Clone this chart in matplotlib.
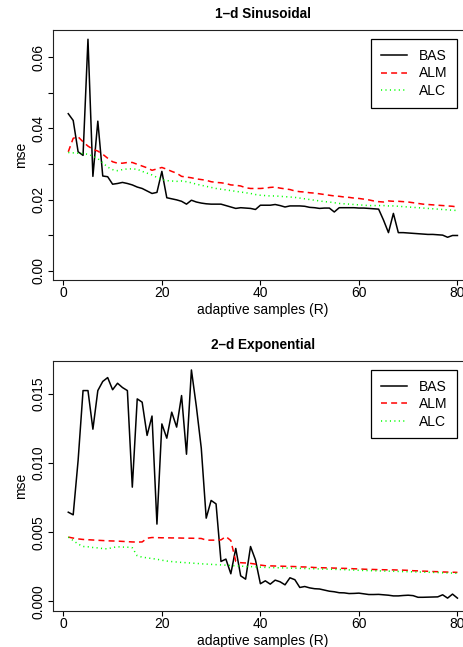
import numpy as np
import matplotlib
matplotlib.use("Agg")
import matplotlib.pyplot as plt

plt.rcParams['font.family'] = ['Liberation Sans', 'DejaVu Sans']
plt.rcParams['lines.scale_dashes'] = False

R = list(range(1, 81))

sin_bas = [0.0441,0.0422,0.0334,0.0324,0.0650,0.0265,0.0420,0.0266,0.0264,0.0243,
           0.0245,0.0248,0.0245,0.0241,0.0235,0.0231,0.0224,0.0217,0.0220,0.0279,
           0.0205,0.0202,0.0199,0.0195,0.0187,0.0198,0.0193,0.0190,0.0188,0.0187,
           0.0187,0.0187,0.0183,0.0179,0.0175,0.0177,0.0176,0.0175,0.0172,0.0184,
           0.0184,0.0184,0.0186,0.0183,0.0179,0.0182,0.0182,0.0182,0.0181,0.0178,
           0.0177,0.0175,0.0176,0.0176,0.0165,0.0177,0.0177,0.0177,0.0177,0.0176,
           0.0176,0.0175,0.0174,0.0173,0.0142,0.0107,0.0161,0.0107,0.0107,0.0106,
           0.0105,0.0104,0.0103,0.0102,0.0102,0.0101,0.0100,0.0094,0.0099,0.0099]
sin_alm = [0.0334,0.0372,0.0376,0.0362,0.0350,0.0341,0.0336,0.0327,0.0316,0.0306,
           0.0302,0.0302,0.0304,0.0304,0.0299,0.0294,0.0289,0.0282,0.0286,0.0290,
           0.0285,0.0279,0.0274,0.0265,0.0263,0.0261,0.0258,0.0256,0.0254,0.0250,
           0.0248,0.0247,0.0245,0.0241,0.0240,0.0238,0.0233,0.0231,0.0231,0.0231,
           0.0232,0.0234,0.0235,0.0232,0.0230,0.0228,0.0224,0.0222,0.0221,0.0219,
           0.0218,0.0216,0.0214,0.0212,0.0210,0.0209,0.0207,0.0206,0.0204,0.0203,
           0.0201,0.0199,0.0196,0.0194,0.0193,0.0196,0.0195,0.0195,0.0194,0.0193,
           0.0191,0.0189,0.0187,0.0186,0.0185,0.0184,0.0183,0.0182,0.0181,0.0179]
sin_alc = [0.0332,0.0331,0.0330,0.0329,0.0327,0.0322,0.0315,0.0303,0.0291,0.0284,
           0.0281,0.0284,0.0286,0.0286,0.0285,0.0279,0.0274,0.0269,0.0262,0.0256,
           0.0253,0.0252,0.0251,0.0252,0.0250,0.0247,0.0243,0.0240,0.0237,0.0234,
           0.0231,0.0229,0.0227,0.0225,0.0223,0.0221,0.0219,0.0217,0.0214,0.0212,
           0.0211,0.0210,0.0210,0.0209,0.0208,0.0207,0.0206,0.0204,0.0202,0.0200,
           0.0198,0.0196,0.0194,0.0193,0.0191,0.0189,0.0188,0.0187,0.0186,0.0185,
           0.0184,0.0183,0.0183,0.0183,0.0183,0.0182,0.0182,0.0181,0.0180,0.0179,
           0.0178,0.0177,0.0176,0.0175,0.0174,0.0173,0.0172,0.0171,0.0170,0.0169]

exp_bas = [0.00645,0.00626,0.0102,0.01524,0.01524,0.01245,0.01524,0.0159,0.01618,0.0153,
           0.01577,0.01546,0.01524,0.00826,0.01464,0.0144,0.0120,0.0134,0.00559,0.01283,
           0.0118,0.01368,0.0126,0.01488,0.01064,0.01673,0.01409,0.01108,0.00602,0.0073,
           0.00705,0.00289,0.00306,0.0020,0.00383,0.00185,0.00161,0.00397,0.0030,0.00128,
           0.00149,0.00125,0.00154,0.00142,0.0012,0.00171,0.00157,0.00101,0.00108,0.00098,
           0.00092,0.00090,0.00082,0.00074,0.00070,0.00063,0.00062,0.00057,0.00058,0.00060,
           0.00055,0.00050,0.00050,0.00051,0.00048,0.00045,0.00040,0.00040,0.00043,0.00045,
           0.00042,0.00030,0.00030,0.00031,0.00032,0.00033,0.00048,0.00024,0.00053,0.00024]
exp_alm = [0.00465,0.00458,0.00452,0.00448,0.00446,0.00444,0.00442,0.00440,0.00438,0.00437,
           0.00436,0.00434,0.00432,0.00430,0.00429,0.00430,0.00457,0.00462,0.00461,0.00460,
           0.00460,0.00459,0.00459,0.00458,0.00457,0.00457,0.00456,0.00455,0.00443,0.00443,
           0.00443,0.00445,0.00469,0.00440,0.00290,0.00280,0.00278,0.00275,0.00270,0.00263,
           0.00258,0.00257,0.00256,0.00255,0.00254,0.00253,0.00252,0.00250,0.00249,0.00248,
           0.00245,0.00244,0.00243,0.00242,0.00241,0.00240,0.00239,0.00238,0.00236,0.00235,
           0.00233,0.00232,0.00231,0.00230,0.00229,0.00228,0.00228,0.00227,0.00226,0.00225,
           0.00222,0.00221,0.00219,0.00218,0.00216,0.00215,0.00213,0.00212,0.00211,0.00210]
exp_alc = [0.00465,0.00440,0.00415,0.00397,0.00395,0.00390,0.00387,0.00382,0.00380,0.00390,
           0.00395,0.00393,0.00392,0.00388,0.00330,0.00320,0.00315,0.00310,0.00305,0.00298,
           0.00292,0.00288,0.00285,0.00282,0.00280,0.00277,0.00275,0.00272,0.00270,0.00268,
           0.00266,0.00264,0.00262,0.00260,0.00257,0.00255,0.00253,0.00252,0.00250,0.00248,
           0.00246,0.00245,0.00244,0.00243,0.00242,0.00241,0.00240,0.00239,0.00238,0.00237,
           0.00236,0.00235,0.00234,0.00233,0.00232,0.00231,0.00230,0.00228,0.00227,0.00225,
           0.00224,0.00223,0.00222,0.00221,0.00220,0.00219,0.00218,0.00217,0.00216,0.00215,
           0.00214,0.00213,0.00212,0.00211,0.00210,0.00209,0.00207,0.00206,0.00205,0.00203]

titles = ["1\u2013d Sinusoidal", "2\u2013d Exponential"]
series_labels = ["BAS", "ALM", "ALC"]
x_ticks = [0, 20, 40, 60, 80]
y_ticks_top = [0.00, 0.01, 0.02, 0.03, 0.04, 0.05, 0.06]
y_labels_top = ["0.00", "", "0.02", "", "0.04", "", "0.06"]
y_ticks_bot = [0.000, 0.005, 0.010, 0.015]
y_labels_bot = ["0.000", "0.005", "0.010", "0.015"]

W, H = 464, 647
fig = plt.figure(figsize=(W / 100, H / 100), dpi=100)

styles = [dict(color='black', linestyle='-'),
          dict(color='#FF0000', linestyle=(0, (4.3, 3.0))),
          dict(color='#00FF00', linestyle=(0, (0.8, 2.4)))]

panels = [
    (titles[0], [sin_bas, sin_alm, sin_alc], y_ticks_top, y_labels_top, 30, 280),
    (titles[1], [exp_bas, exp_alm, exp_alc], y_ticks_bot, y_labels_bot, 360.7, 610.7),
]

left_px, right_px = 52.7, 473.0
for title, series, yt, yl, top_px, bot_px in panels:
    ax = fig.add_axes([left_px / W, 1 - bot_px / H, (right_px - left_px) / W, (bot_px - top_px) / H])
    handles = []
    for vals, st, lab in zip(series, styles, series_labels):
        h, = ax.plot(R, vals, lw=1.1, label=lab, **st)
        handles.append(h)
    hi = max(max(s) for s in series)
    pad = 0.04 * hi
    ax.set_ylim(-pad, hi + pad)
    xp = 0.04 * (R[-1] - R[0])
    ax.set_xlim(R[0] - xp, R[-1] + xp)
    ax.set_xticks(x_ticks)
    ax.set_xticklabels([str(v) for v in x_ticks])
    ax.set_yticks(yt)
    ax.set_yticklabels(yl)
    ax.tick_params(axis='both', direction='out', length=3.5, width=0.8, labelsize=10, colors='black')
    ax.tick_params(axis='x', pad=1.0)
    ax.tick_params(axis='y', pad=1.5)
    for lbl in ax.get_yticklabels():
        lbl.set_rotation(90)
        lbl.set_va('center')
    for sp in ax.spines.values():
        sp.set_linewidth(0.8)
        sp.set_color('#222222')
    ax.set_title(title, fontsize=9.8, fontweight='bold', pad=8.4)
    ax.set_xlabel("adaptive samples (R)", fontsize=10, labelpad=2)
    ax.set_ylabel("mse", fontsize=10, labelpad=3)
    leg = ax.legend(handles=handles, loc='upper right',
                    bbox_to_anchor=(457.3 / W, 1 - (top_px + 9.3) / H),
                    bbox_transform=fig.transFigure,
                    fontsize=10, frameon=True, fancybox=False, shadow=False,
                    framealpha=1, edgecolor='black', borderpad=0.7,
                    handlelength=1.9, handletextpad=0.85, labelspacing=0.25,
                    borderaxespad=0)
    leg.get_frame().set_linewidth(0.9)

fig.savefig("out.png", dpi=100)
